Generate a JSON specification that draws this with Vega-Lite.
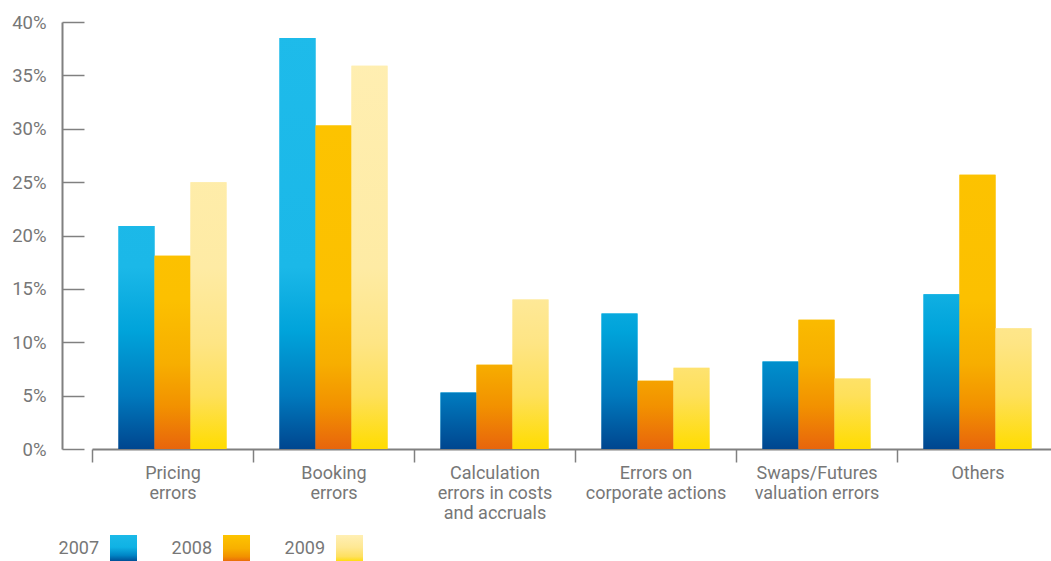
{
  "$schema": "https://vega.github.io/schema/vega-lite/v6.json",
  "width": 959,
  "height": 427,
  "autosize": {"type": "none"},
  "padding": {"left": 92, "top": 22, "right": 0, "bottom": 112},
  "background": "white",
  "config": {"view": {"stroke": null}, "font": "Roboto"},
  "data": {
    "values": [
      {"category": "Pricing errors", "year": "2007", "value": 20.9},
      {"category": "Pricing errors", "year": "2008", "value": 18.1},
      {"category": "Pricing errors", "year": "2009", "value": 25.0},
      {"category": "Booking errors", "year": "2007", "value": 38.5},
      {"category": "Booking errors", "year": "2008", "value": 30.3},
      {"category": "Booking errors", "year": "2009", "value": 35.9},
      {"category": "Calculation errors in costs and accruals", "year": "2007", "value": 5.3},
      {"category": "Calculation errors in costs and accruals", "year": "2008", "value": 7.9},
      {"category": "Calculation errors in costs and accruals", "year": "2009", "value": 14.0},
      {"category": "Errors on corporate actions", "year": "2007", "value": 12.7},
      {"category": "Errors on corporate actions", "year": "2008", "value": 6.4},
      {"category": "Errors on corporate actions", "year": "2009", "value": 7.6},
      {"category": "Swaps/Futures valuation errors", "year": "2007", "value": 8.2},
      {"category": "Swaps/Futures valuation errors", "year": "2008", "value": 12.1},
      {"category": "Swaps/Futures valuation errors", "year": "2009", "value": 6.6},
      {"category": "Others", "year": "2007", "value": 14.5},
      {"category": "Others", "year": "2008", "value": 25.7},
      {"category": "Others", "year": "2009", "value": 11.3}
    ]
  },
  "encoding": {
    "x": {
      "field": "category",
      "type": "nominal",
      "sort": null,
      "scale": {"range": [0, 966], "paddingInner": 0, "paddingOuter": 0},
      "axis": {
        "title": null,
        "labelAngle": 0,
        "domainColor": "#808080",
        "domainWidth": 2,
        "tickColor": "#808080",
        "tickWidth": 1.5,
        "tickSize": 13,
        "tickOffset": -80.5,
        "labelOffset": 80.5,
        "labelPadding": 2,
        "labelFont": "Roboto",
        "labelFontSize": 18,
        "labelFontWeight": "normal",
        "labelColor": "#777777",
        "labelLineHeight": 20,
        "labelExpr": "datum.value == 'Pricing errors' ? ['Pricing', 'errors'] : datum.value == 'Booking errors' ? ['Booking', 'errors'] : datum.value == 'Calculation errors in costs and accruals' ? ['Calculation', 'errors in costs', 'and accruals'] : datum.value == 'Errors on corporate actions' ? ['Errors on', 'corporate actions'] : datum.value == 'Swaps/Futures valuation errors' ? ['Swaps/Futures', 'valuation errors'] : datum.label"
      }
    },
    "xOffset": {
      "field": "year",
      "type": "nominal",
      "scale": {"paddingInner": 0, "paddingOuter": 0.736}
    },
    "y": {
      "field": "value",
      "type": "quantitative",
      "scale": {"domain": [0, 40], "nice": false},
      "axis": {
        "title": null,
        "grid": false,
        "offset": 30,
        "values": [0, 5, 10, 15, 20, 25, 30, 35, 40],
        "labelExpr": "datum.value + '%'",
        "domainColor": "#808080",
        "domainWidth": 2,
        "tickColor": "#808080",
        "tickWidth": 1.5,
        "tickSize": -22,
        "labelPadding": 38,
        "labelFont": "Roboto",
        "labelFontSize": 18.5,
        "labelFontWeight": "normal",
        "labelColor": "#777777"
      }
    }
  },
  "layer": [
    {
      "mark": {"type": "bar"},
      "encoding": {
        "color": {
          "field": "year",
          "type": "nominal",
          "scale": {
            "domain": ["2007", "2008", "2009"],
            "range": [
              {"expr": "{gradient: 'linear', x1: 0, y1: 0, x2: 0, y2: 1, stops: [{offset: 0, color: '#1BB9E8'}, {offset: 0.45, color: '#10B2E4'}, {offset: 0.75, color: '#0086C6'}, {offset: 1, color: '#00468F'}]}"},
              {"expr": "{gradient: 'linear', x1: 0, y1: 0, x2: 0, y2: 1, stops: [{offset: 0, color: '#FDC400'}, {offset: 0.5, color: '#F8B000'}, {offset: 0.8, color: '#F29100'}, {offset: 1, color: '#E8650C'}]}"},
              {"expr": "{gradient: 'linear', x1: 0, y1: 0, x2: 0, y2: 1, stops: [{offset: 0, color: '#FFEFB4'}, {offset: 0.45, color: '#FEE894'}, {offset: 0.8, color: '#FEE060'}, {offset: 1, color: '#FFDC00'}]}"}
            ]
          },
          "legend": {
            "orient": "none",
            "legendX": 18,
            "legendY": 513,
            "direction": "horizontal",
            "title": null,
            "symbolType": "square",
            "symbolSize": 729,
            "symbolStrokeWidth": 0,
            "symbolOpacity": 1,
            "labelAlign": "right",
            "labelOffset": -38,
            "labelFont": "Roboto",
            "labelFontSize": 18,
            "labelFontWeight": "normal",
            "labelColor": "#777777",
            "columnPadding": 34
          }
        }
      }
    },
    {
      "mark": {
        "type": "bar",
        "color": {"expr": "{gradient: 'linear', x1: 0, y1: 1 - 40 / datum.value, x2: 0, y2: 1, stops: datum.year == '2007' ? [{offset: 0, color: '#1EBBEA'}, {offset: 0.575, color: '#1BB8E8'}, {offset: 0.725, color: '#00A3DA'}, {offset: 0.875, color: '#0079BD'}, {offset: 1, color: '#00468F'}] : datum.year == '2008' ? [{offset: 0, color: '#FDC500'}, {offset: 0.65, color: '#FCC000'}, {offset: 0.8, color: '#F7AE00'}, {offset: 0.9, color: '#F29100'}, {offset: 1, color: '#E8650C'}] : [{offset: 0, color: '#FFEFB4'}, {offset: 0.575, color: '#FEEBA4'}, {offset: 0.75, color: '#FEE585'}, {offset: 0.875, color: '#FEE05A'}, {offset: 1, color: '#FFDC00'}]}"}
      }
    }
  ]
}
